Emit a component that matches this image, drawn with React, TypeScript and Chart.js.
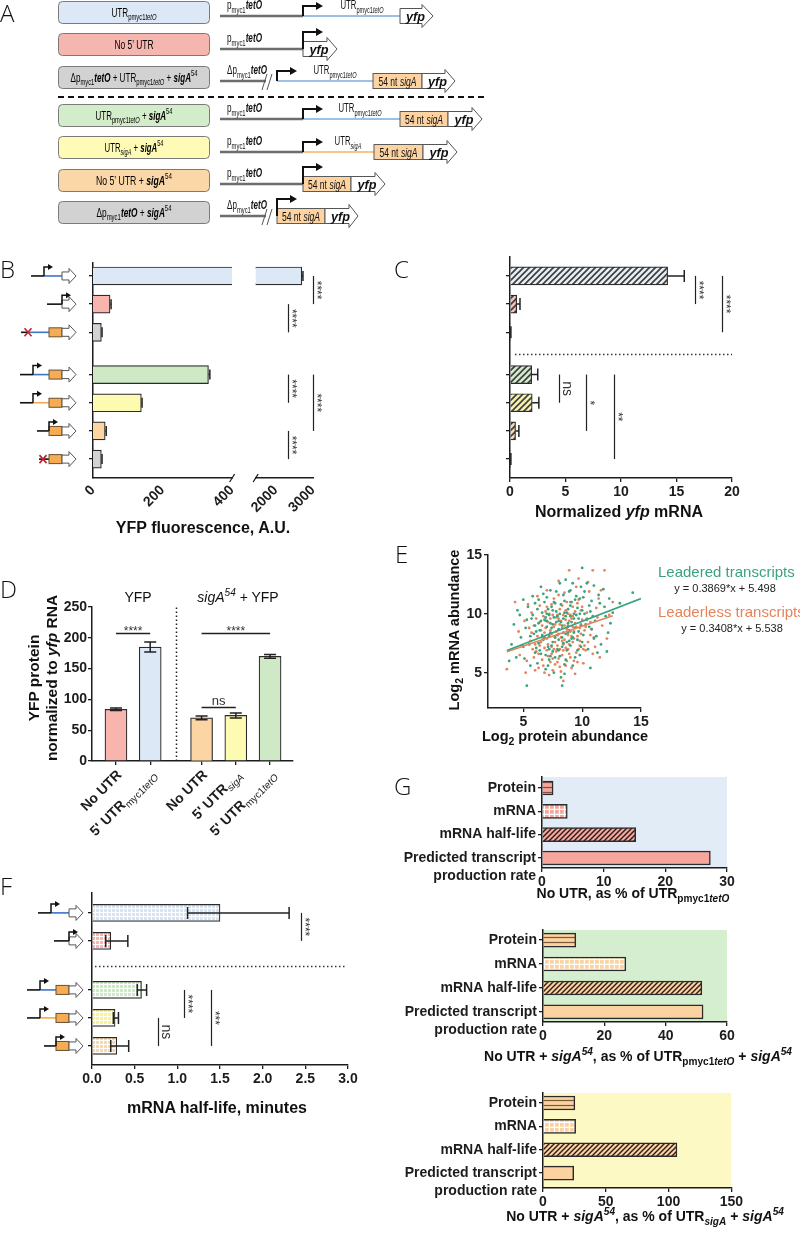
import React, { useEffect, useRef } from "react";
import { Chart, registerables } from "chart.js";

Chart.register(...registerables);

/* ---------------- fonts & colours ---------------- */
const FONT = "'Liberation Sans', Arial, Helvetica, sans-serif";
const LETTER = "'Open Sans', 'Liberation Sans', sans-serif";
const AX = "#1c1c1c";

const BLUE = "#dce8f5";
const PINK = "#f7b5ae";
const GRAY = "#d3d3d3";
const GREEN = "#cfe9c7";
const YELLOW = "#fdfab2";
const ORANGE = "#fcd5a5";
const SALMON = "#f6a69d";
const LORANGE = "#fbd2a0";
const E_GREEN = "#3aa37f";
const E_ORANGE = "#e3845c";

/* ---------------- data ---------------- */
const constructIcons = ["utr", "none", "dutr", "utrSig", "sigSig", "noneSig", "dSig"];
const constructPos = [0, 1, 2, 3.5, 4.5, 5.5, 6.5];

// B: YFP fluorescence (A.U.)
const bFluorescence = [2700, 49, 24, 332, 139, 35, 24];
const bError = [30, 3, 2, 4, 2, 3, 2];
const bTicksLow = [0, 200, 400];
const bTicksHigh = [2000, 3000];

// C: normalized yfp mRNA
const cMrna = [14.2, 0.6, 0.05, 1.95, 2.0, 0.5, 0.05];
const cError = [1.5, 0.3, 0.03, 0.55, 0.6, 0.3, 0.03];
const cTicks = [0, 5, 10, 15, 20];

// D: YFP protein normalized to yfp RNA
const dLabels = ["No UTR", "5' UTR|_myc1|_/tetO", "No UTR", "5' UTR|_/sigA", "5' UTR|_myc1|_/tetO"];
const dPos = [0, 1, 2.5, 3.5, 4.5];
const dRatio = [84, 185, 70, 74, 170];
const dError = [2, 8, 3, 4, 3];
const dTicks = [0, 50, 100, 150, 200, 250];

// E: log2 protein (x) vs log2 mRNA (y), flat x,y pairs
const eLeadered = [
  4.2, 9.1, 4.5, 10.3, 4.8, 8.0, 5.1, 6.2, 5.3, 3.9, 5.0, 11.2, 5.5, 7.4, 5.7, 9.6, 5.9, 8.3, 6.0, 10.9,
  6.1, 7.1, 6.2, 5.8, 6.3, 9.2, 6.4, 8.6, 6.5, 12.3, 6.5, 6.6, 6.6, 10.1, 6.7, 7.8, 6.8, 9.5, 6.9, 5.3,
  7.0, 8.9, 7.0, 11.4, 7.1, 7.2, 7.2, 9.9, 7.2, 6.1, 7.3, 8.4, 7.4, 10.6, 7.5, 7.6, 7.5, 9.1, 7.6, 5.0,
  7.7, 8.0, 7.8, 10.2, 7.8, 11.9, 7.9, 7.0, 8.0, 9.4, 8.0, 8.7, 8.1, 6.4, 8.2, 10.8, 8.3, 3.9, 8.3, 9.0,
  8.4, 7.5, 8.5, 11.1, 8.6, 8.3, 8.6, 9.8, 8.7, 6.9, 8.8, 10.4, 8.9, 8.6, 9.0, 12.0, 9.0, 7.3, 9.1, 9.3,
  9.2, 5.6, 9.3, 10.0, 9.4, 8.8, 9.5, 11.5, 9.6, 7.8, 9.7, 9.6, 9.8, 6.5, 10.0, 13.9, 10.0, 10.3, 10.1, 8.2,
  10.2, 11.9, 10.3, 9.1, 10.5, 7.0, 10.6, 10.7, 10.8, 8.7, 11.0, 12.4, 11.1, 9.4, 11.3, 6.7, 11.5, 10.9, 11.8, 12.1,
  12.0, 9.8, 12.2, 8.4, 12.3, 11.3, 12.6, 10.1, 13.2, 10.9, 14.3, 11.8, 3.8, 6.0, 4.0, 7.4, 4.4, 6.3, 4.7, 9.9,
  5.2, 8.8, 5.4, 10.6, 5.6, 5.6, 5.8, 11.5, 6.0, 9.0, 6.3, 7.5, 6.6, 8.2, 6.8, 11.0, 7.1, 10.4, 7.3, 12.0,
  7.4, 7.3, 7.6, 9.7, 7.9, 8.2, 8.1, 12.6, 8.2, 4.6, 8.4, 9.6, 8.5, 5.7, 8.7, 10.1, 8.9, 7.7, 9.1, 11.0,
  9.2, 8.0, 9.4, 6.3, 9.6, 10.5, 9.9, 9.0, 10.4, 12.6, 10.7, 5.4, 10.9, 9.8, 11.2, 8.1, 11.6, 7.4, 12.1, 6.8,
  12.4, 9.2, 6.2, 10.4, 6.9, 9.7, 7.7, 10.9, 8.0, 7.8, 8.8, 9.2, 9.3, 9.6, 9.8, 11.3, 7.2, 8.1, 6.4, 6.9,
  5.6, 8.1, 5.0, 7.2, 8.6, 12.9, 9.9, 12.3, 11.9, 10.6, 7.5, 6.8, 8.3, 8.0, 8.8, 8.4, 7.0, 9.4, 9.5, 9.9,
  10.2, 10.0, 6.7, 11.7, 7.8, 9.3, 6.1, 8.5, 9.0, 10.7, 8.1, 10.0, 8.4, 11.6, 10.6, 8.9, 11.4, 11.6, 7.3, 6.4,
  9.7, 8.5, 6.5, 9.4, 6.8, 8.0, 7.0, 10.0, 7.2, 7.0, 7.4, 8.8, 7.6, 11.0, 7.7, 6.3, 7.9, 9.8, 8.0, 6.9,
  8.2, 9.3, 8.3, 7.2, 8.5, 10.1, 8.6, 6.1, 8.8, 8.9, 8.9, 11.9, 9.1, 7.9, 9.3, 8.4, 9.4, 11.2, 9.6, 6.9,
  9.8, 10.0, 10.0, 7.6, 10.1, 11.4, 10.4, 9.5, 10.7, 10.2, 11.0, 7.9, 6.0, 6.7, 5.8, 9.9, 6.3, 11.2, 7.1, 5.6,
  8.5, 4.9, 9.2, 12.6, 10.8, 11.1, 6.9, 6.5, 7.5, 10.3, 8.7, 7.6, 9.0, 9.8, 7.3, 9.2, 8.4, 8.4, 9.9, 7.2, 5.3, 9.5,
];
const eLeaderless = [
  3.6, 5.3, 4.3, 11.0, 4.6, 8.5, 4.9, 7.3, 5.1, 9.4, 5.3, 6.0, 5.5, 8.8, 5.7, 10.1, 5.8, 7.0, 6.0, 5.2,
  6.1, 9.6, 6.2, 8.1, 6.3, 6.6, 6.4, 10.7, 6.5, 7.6, 6.6, 9.0, 6.7, 5.6, 6.8, 8.4, 6.9, 10.2, 7.0, 6.9,
  7.0, 7.9, 7.1, 9.3, 7.2, 4.8, 7.3, 8.6, 7.4, 7.2, 7.4, 10.8, 7.5, 6.2, 7.6, 8.9, 7.7, 7.6, 7.8, 9.7,
  7.9, 5.9, 8.0, 8.3, 8.0, 11.6, 8.1, 7.0, 8.2, 9.4, 8.3, 6.5, 8.3, 8.8, 8.4, 4.3, 8.5, 7.8, 8.6, 10.3,
  8.7, 6.0, 8.8, 9.0, 8.9, 13.7, 8.9, 7.4, 9.0, 8.5, 9.1, 5.4, 9.2, 10.6, 9.3, 7.9, 9.4, 9.2, 9.5, 6.7,
  9.6, 8.1, 9.7, 11.2, 9.8, 7.3, 10.0, 9.5, 10.1, 5.8, 10.2, 8.6, 10.4, 10.1, 10.5, 7.6, 10.7, 9.3, 10.9, 13.7,
  11.0, 8.0, 11.2, 10.5, 11.5, 6.3, 11.7, 9.0, 11.9, 13.7, 12.1, 7.9, 12.3, 9.9, 5.4, 10.8, 5.9, 9.0, 6.2, 11.5,
  6.6, 6.1, 6.9, 8.8, 7.2, 10.0, 7.5, 5.2, 7.7, 8.0, 7.9, 9.9, 8.1, 5.5, 8.3, 10.7, 8.6, 7.1, 8.8, 8.2,
  9.0, 6.3, 9.2, 9.8, 9.4, 4.9, 9.6, 10.9, 9.9, 8.3, 10.3, 6.9, 10.6, 11.9, 10.8, 8.7, 11.1, 7.2, 11.4, 11.3,
  6.0, 7.4, 6.4, 9.3, 6.8, 7.1, 7.1, 6.4, 7.3, 9.6, 7.6, 11.3, 7.8, 6.8, 8.2, 8.0, 8.4, 9.9, 8.7, 8.7,
  8.9, 6.6, 9.1, 9.6, 9.3, 8.5, 9.5, 12.3, 9.8, 7.7, 10.0, 10.6, 10.3, 8.9, 10.9, 6.6, 11.3, 9.7, 12.6, 11.0,
  4.7, 6.5, 5.2, 5.0, 5.6, 7.7, 6.3, 5.4, 7.0, 12.0, 8.0, 12.8, 8.5, 11.8, 9.0, 11.0, 9.7, 13.0, 10.5, 12.7,
  11.6, 12.0, 7.4, 8.3, 8.1, 9.1, 8.6, 9.5, 9.2, 7.6, 9.9, 9.1, 6.7, 9.8, 7.7, 5.7, 8.4, 6.9, 9.4, 10.2,
  6.5, 8.6, 7.9, 7.3, 8.8, 10.0, 6.6, 8.0, 6.9, 9.4, 7.1, 7.4, 7.3, 5.9, 7.5, 9.9, 7.6, 7.0, 7.8, 8.5,
  8.0, 6.2, 8.1, 10.4, 8.3, 7.7, 8.5, 9.0, 8.6, 5.6, 8.8, 7.0, 9.0, 9.9, 9.1, 8.1, 9.3, 6.0, 9.5, 8.9,
  9.7, 7.0, 9.9, 10.3, 10.2, 7.3, 10.4, 9.6, 10.7, 8.2, 6.1, 6.8, 5.7, 8.4, 6.4, 7.3, 7.0, 10.6, 7.7, 9.1,
  8.2, 5.1, 8.9, 9.4, 9.6, 5.9, 6.8, 5.0, 7.4, 6.6, 8.7, 11.0, 9.8, 8.8, 10.1, 7.0, 5.9, 6.3, 7.2, 8.2,
  8.0, 9.6, 8.4, 7.4, 9.2, 8.9,
];
const eLeaderedFit = [3.6, 6.89, 15, 11.3];
const eLeaderlessFit = [3.6, 6.77, 12.6, 9.83];
const eTicks = [5, 10, 15];

// F: mRNA half-life (minutes)
const fIcons = ["utr", "none", "utrSig", "sigSig", "noneSig"];
const fPos = [0, 1, 2.75, 3.75, 4.75];
const fHalfLife = [1.5, 0.22, 0.58, 0.27, 0.29];
const fLow = [1.12, 0.16, 0.53, 0.25, 0.22];
const fHigh = [2.31, 0.42, 0.64, 0.31, 0.43];
const fTicks = [0, 0.5, 1, 1.5, 2, 2.5, 3];

// G: percentages
const gCategories = [["Protein"], ["mRNA"], ["mRNA half-life"], ["Predicted transcript", "production rate"]];
const gPos = [0, 1, 2, 3];
const gNoUtr = [1.8, 4.1, 15.2, 27.3];
const gNoUtrSig = [10.7, 27, 51.8, 52.2];
const gNoUtrSigVsSigA = [25.4, 26, 106.7, 24.5];
const g1Ticks = [0, 10, 20, 30];
const g2Ticks = [0, 20, 40, 60];
const g3Ticks = [0, 50, 100, 150];

// significance annotations
const bSigs = [
  { x: 3000, from: 0, to: 1, text: "****" },
  { x: 2333, from: 1, to: 2, text: "****" },
  { x: 2333, from: 3.5, to: 4.5, text: "****" },
  { x: 3000, from: 3.5, to: 5.5, text: "****" },
  { x: 2333, from: 5.5, to: 6.5, text: "****" },
];
const cSigs = [
  { x: 16.7, from: 0, to: 1, text: "****" },
  { x: 19.1, from: 0, to: 2, text: "****" },
  { x: 4.4, from: 3.5, to: 4.5, text: "ns" },
  { x: 6.85, from: 3.5, to: 5.5, text: "*" },
  { x: 9.4, from: 3.5, to: 6.5, text: "**" },
];
const dSigs = [
  { from: 0, to: 1, y: 208, text: "****" },
  { from: 2.5, to: 4.5, y: 208, text: "****" },
  { from: 2.5, to: 3.5, y: 88, text: "ns" },
];
const fSigs = [
  { x: 2.45, from: 0, to: 1, text: "****" },
  { x: 1.08, from: 2.75, to: 3.75, text: "****" },
  { x: 1.4, from: 2.75, to: 4.75, text: "***" },
  { x: 0.77, from: 3.75, to: 4.75, text: "ns" },
];

/* ---------------- layout boxes ---------------- */
type Box = { x: number; y: number; w: number; h: number };
type Area = { l: number; t: number; r: number; b: number };

const BL_BOX = { x: 0, y: 255, w: 248, h: 265 }, BL_AREA = { l: 93, t: 263, r: 240, b: 478 };
const BR_BOX = { x: 248, y: 255, w: 100, h: 265 }, BR_AREA = { l: 253, t: 263, r: 313, b: 478 };
const C_BOX = { x: 395, y: 252, w: 350, h: 245 }, C_AREA = { l: 510, t: 257, r: 732, b: 478 };
const D_BOX = { x: 0, y: 590, w: 300, h: 260 }, D_AREA = { l: 92, t: 607, r: 293, b: 761 };
const E_BOX = { x: 400, y: 540, w: 260, h: 200 }, E_AREA = { l: 488, t: 555, r: 641, b: 708 };
const F_BOX = { x: 0, y: 885, w: 365, h: 215 }, F_AREA = { l: 92, t: 893, r: 348, b: 1065 };
const G1_BOX = { x: 390, y: 770, w: 350, h: 120 }, G1_AREA = { l: 542, t: 777, r: 727, b: 868 };
const G2_BOX = { x: 390, y: 925, w: 350, h: 115 }, G2_AREA = { l: 543, t: 930, r: 727, b: 1022 };
const G3_BOX = { x: 390, y: 1088, w: 355, h: 125 }, G3_AREA = { l: 543, t: 1093, r: 732, b: 1188 };

/* ---------------- helpers ---------------- */
type Seg = { t: string; sub?: boolean; sup?: boolean; i?: boolean; b?: boolean };
function parseSegs(s: string): Seg[] {
  return s.split("|").map((tok) => {
    const seg: Seg = { t: "" };
    let k = 0;
    while (k < tok.length && "_^/*".includes(tok[k])) {
      const c = tok[k];
      if (c === "_") seg.sub = true;
      else if (c === "^") seg.sup = true;
      else if (c === "/") seg.i = true;
      else seg.b = true;
      k++;
    }
    seg.t = tok.slice(k);
    return seg;
  });
}

const tickFont = { family: FONT, size: 14, weight: "bold" as const };
const tickMarks = { display: true, drawOnChartArea: false, drawTicks: true, tickLength: 4, color: AX, lineWidth: 1.3, offset: false };
const noGrid = { display: false, drawOnChartArea: false, drawTicks: false };
const axisBorder = { display: true, color: AX, width: 1.5 };

function fixedTicks(vals: number[]) {
  return (s: any) => {
    s.ticks = vals.map((v) => ({ value: v }));
  };
}
function pairs(a: number[]) {
  const out: { x: number; y: number }[] = [];
  for (let i = 0; i + 1 < a.length; i += 2) out.push({ x: a[i], y: a[i + 1] });
  return out;
}
function baseOptions(box: Box, area: Area, hideY = false) {
  return {
    responsive: false,
    maintainAspectRatio: false,
    animation: false,
    devicePixelRatio: 1,
    events: [],
    layout: { padding: { left: hideY ? area.l - box.x : 0, top: area.t - box.y, right: box.x + box.w - area.r, bottom: 0 } },
    plugins: { legend: { display: false }, tooltip: { enabled: false }, title: { display: false } },
  };
}
function makePattern(kind: string, bg: string, fg: string, size: number, lw: number) {
  const c = document.createElement("canvas");
  c.width = size;
  c.height = size;
  const x = c.getContext("2d")!;
  x.fillStyle = bg;
  x.fillRect(0, 0, size, size);
  x.strokeStyle = fg;
  x.lineWidth = lw;
  x.beginPath();
  if (kind === "diag") {
    x.moveTo(0, size);
    x.lineTo(size, 0);
    x.moveTo(-size / 4, size / 4);
    x.lineTo(size / 4, -size / 4);
    x.moveTo((size * 3) / 4, (size * 5) / 4);
    x.lineTo((size * 5) / 4, (size * 3) / 4);
  } else if (kind === "hstripe") {
    x.moveTo(0, size / 2);
    x.lineTo(size, size / 2);
  } else if (kind === "grid") {
    x.moveTo(size - lw / 2, 0);
    x.lineTo(size - lw / 2, size);
    x.moveTo(0, size - lw / 2);
    x.lineTo(size, size - lw / 2);
  }
  x.stroke();
  return x.createPattern(c, "repeat");
}

/* ---------- canvas drawing helpers ---------- */
function drawIcon(ctx: CanvasRenderingContext2D, kind: string, R: number, cy: number) {
  ctx.save();
  const hline = (x0: number, x1: number, color: string) => {
    ctx.strokeStyle = color;
    ctx.lineWidth = 1.6;
    ctx.beginPath();
    ctx.moveTo(x0, cy);
    ctx.lineTo(x1, cy);
    ctx.stroke();
  };
  const prom = (x: number) => {
    ctx.strokeStyle = "#111";
    ctx.fillStyle = "#111";
    ctx.lineWidth = 1.5;
    ctx.beginPath();
    ctx.moveTo(x, cy);
    ctx.lineTo(x, cy - 9);
    ctx.lineTo(x + 5, cy - 9);
    ctx.stroke();
    ctx.beginPath();
    ctx.moveTo(x + 4, cy - 12);
    ctx.lineTo(x + 9, cy - 9);
    ctx.lineTo(x + 4, cy - 6);
    ctx.closePath();
    ctx.fill();
  };
  const cross = (x: number) => {
    ctx.strokeStyle = "#c0242b";
    ctx.lineWidth = 1.6;
    ctx.beginPath();
    ctx.moveTo(x - 3.5, cy - 4);
    ctx.lineTo(x + 3.5, cy + 4);
    ctx.moveTo(x + 3.5, cy - 4);
    ctx.lineTo(x - 3.5, cy + 4);
    ctx.stroke();
  };
  const box = () => {
    ctx.fillStyle = "#f5ac52";
    ctx.fillRect(R - 27, cy - 4.5, 13, 9);
    ctx.strokeStyle = "#6b5030";
    ctx.lineWidth = 1;
    ctx.strokeRect(R - 27, cy - 4.5, 13, 9);
  };
  const yfp = () => {
    ctx.beginPath();
    ctx.moveTo(R - 14, cy - 4);
    ctx.lineTo(R - 7, cy - 4);
    ctx.lineTo(R - 7, cy - 7.5);
    ctx.lineTo(R, cy);
    ctx.lineTo(R - 7, cy + 7.5);
    ctx.lineTo(R - 7, cy + 4);
    ctx.lineTo(R - 14, cy + 4);
    ctx.closePath();
    ctx.fillStyle = "#fff";
    ctx.fill();
    ctx.strokeStyle = "#555";
    ctx.lineWidth = 1;
    ctx.stroke();
  };
  const IB = "#3d74c6", IO = "#f3a952";
  switch (kind) {
    case "utr": hline(R - 45, R - 32, "#111"); hline(R - 32, R - 14, IB); yfp(); prom(R - 32); break;
    case "none": hline(R - 29, R - 14, "#111"); yfp(); prom(R - 14); break;
    case "dutr": hline(R - 55, R - 48, "#111"); hline(R - 48, R - 27, IB); box(); yfp(); cross(R - 48); break;
    case "utrSig": hline(R - 56, R - 43, "#111"); hline(R - 43, R - 27, IB); box(); yfp(); prom(R - 43); break;
    case "sigSig": hline(R - 56, R - 43, "#111"); hline(R - 43, R - 27, IO); box(); yfp(); prom(R - 43); break;
    case "noneSig": hline(R - 39, R - 27, "#111"); box(); yfp(); prom(R - 27); break;
    case "dSig": hline(R - 37, R - 27, "#111"); box(); yfp(); cross(R - 33); break;
  }
  ctx.restore();
}
function drawIcons(chart: any, kinds: string[], pos: number[], R: number) {
  const ys = chart.scales.y;
  kinds.forEach((k, i) => drawIcon(chart.ctx, k, R, ys.getPixelForValue(pos[i])));
}
function errH(chart: any, vals: number[], errs: number[], pos: number[], cap: number) {
  const { ctx } = chart;
  const xs = chart.scales.x, ys = chart.scales.y;
  ctx.save();
  ctx.strokeStyle = "#222";
  ctx.lineWidth = 1.5;
  vals.forEach((v, i) => {
    const hi = v + errs[i];
    if (hi < xs.min || hi > xs.max) return;
    const x0 = xs.getPixelForValue(Math.max(v, xs.min));
    const x1 = xs.getPixelForValue(hi);
    const y = ys.getPixelForValue(pos[i]);
    ctx.beginPath();
    ctx.moveTo(x0, y);
    ctx.lineTo(x1, y);
    ctx.moveTo(x1, y - cap);
    ctx.lineTo(x1, y + cap);
    ctx.stroke();
  });
  ctx.restore();
}
function errBoth(chart: any, low: number[], high: number[], pos: number[], cap: number) {
  const { ctx } = chart;
  const xs = chart.scales.x, ys = chart.scales.y;
  ctx.save();
  ctx.strokeStyle = "#222";
  ctx.lineWidth = 1.5;
  low.forEach((lo, i) => {
    const x0 = xs.getPixelForValue(lo), x1 = xs.getPixelForValue(high[i]);
    const y = ys.getPixelForValue(pos[i]);
    ctx.beginPath();
    ctx.moveTo(x0, y);
    ctx.lineTo(x1, y);
    ctx.moveTo(x0, y - cap);
    ctx.lineTo(x0, y + cap);
    ctx.moveTo(x1, y - cap);
    ctx.lineTo(x1, y + cap);
    ctx.stroke();
  });
  ctx.restore();
}
function drawVSigs(chart: any, sigs: { x: number; from: number; to: number; text: string }[]) {
  const { ctx } = chart;
  const xs = chart.scales.x, ys = chart.scales.y;
  ctx.save();
  sigs.forEach((s) => {
    const px = Math.round(xs.getPixelForValue(s.x)) + 0.5;
    const y0 = ys.getPixelForValue(s.from), y1 = ys.getPixelForValue(s.to);
    ctx.strokeStyle = "#222";
    ctx.lineWidth = 1.2;
    ctx.beginPath();
    ctx.moveTo(px, y0);
    ctx.lineTo(px, y1);
    ctx.stroke();
    const star = s.text.includes("*");
    ctx.save();
    ctx.translate(px + (star ? -1 : 3), (y0 + y1) / 2);
    ctx.rotate(Math.PI / 2);
    ctx.fillStyle = "#333";
    ctx.font = star ? `12px ${FONT}` : `14px ${FONT}`;
    ctx.textAlign = "center";
    ctx.textBaseline = "alphabetic";
    ctx.fillText(s.text, 0, 0);
    ctx.restore();
  });
  ctx.restore();
}
function dottedH(chart: any, pos: number, from: number, to: number) {
  const { ctx } = chart;
  const xs = chart.scales.x, ys = chart.scales.y;
  const y = Math.round(ys.getPixelForValue(pos)) + 0.5;
  ctx.save();
  ctx.strokeStyle = "#333";
  ctx.lineWidth = 1.5;
  ctx.setLineDash([1.5, 2.5]);
  ctx.beginPath();
  ctx.moveTo(xs.getPixelForValue(from), y);
  ctx.lineTo(xs.getPixelForValue(to), y);
  ctx.stroke();
  ctx.restore();
}
function slash(ctx: CanvasRenderingContext2D, x: number, y: number) {
  ctx.save();
  ctx.strokeStyle = AX;
  ctx.lineWidth = 1.3;
  ctx.beginPath();
  ctx.moveTo(x - 2.5, y + 4);
  ctx.lineTo(x + 2.5, y - 4);
  ctx.stroke();
  ctx.restore();
}
function drawRichCanvas(ctx: CanvasRenderingContext2D, text: string, size: number, subSize: number, x: number, y: number, align: string) {
  const segs = parseSegs(text);
  const fontOf = (s: Seg) => `${s.i ? "italic " : ""}${s.sub || s.sup ? "normal" : "bold"} ${s.sub || s.sup ? subSize : size}px ${FONT}`;
  let w = 0;
  segs.forEach((s) => {
    ctx.font = fontOf(s);
    w += ctx.measureText(s.t).width;
  });
  let cx = align === "right" ? x - w : x;
  ctx.textAlign = "left";
  ctx.textBaseline = "alphabetic";
  segs.forEach((s) => {
    ctx.font = fontOf(s);
    ctx.fillText(s.t, cx, y + (s.sub ? size * 0.25 : 0));
    cx += ctx.measureText(s.t).width;
  });
}

/* ---------------- chart configs ---------------- */
function hbarConfig(o: any) {
  const base = baseOptions(o.box, o.area, o.hideY);
  return {
    type: "bar",
    data: {
      datasets: [
        {
          data: o.values.map((v: number, i: number) => ({ x: v, y: o.pos[i] })),
          backgroundColor: o.fills,
          borderColor: "#2b2b2b",
          borderWidth: o.borderWidth ?? 1.2,
          barThickness: o.thickness,
          clip: 0,
        },
      ],
    },
    options: {
      ...base,
      indexAxis: "y",
      scales: {
        x: {
          type: "linear",
          min: o.xMin,
          max: o.xMax,
          afterBuildTicks: fixedTicks(o.xTicks),
          afterFit: (s: any) => {
            s.height = o.box.y + o.box.h - o.area.b;
          },
          grid: o.noXTicks ? noGrid : tickMarks,
          border: axisBorder,
          ticks: {
            font: tickFont,
            color: AX,
            autoSkip: false,
            padding: o.rotate ? 4 : 2,
            minRotation: o.rotate ? 45 : 0,
            maxRotation: o.rotate ? 45 : 0,
            callback: o.fmt ?? ((v: number) => String(v)),
          },
        },
        y: {
          type: "linear",
          display: !o.hideY,
          reverse: true,
          min: o.yMin,
          max: o.yMax,
          offset: false,
          afterBuildTicks: fixedTicks(o.pos),
          afterFit: o.hideY
            ? undefined
            : (s: any) => {
                s.width = o.area.l - o.box.x;
              },
          grid: tickMarks,
          border: axisBorder,
          ticks: { display: false },
        },
      },
    },
    plugins: [o.plugin],
  };
}

function bLeftConfig() {
  return hbarConfig({
    box: BL_BOX, area: BL_AREA, values: bFluorescence, pos: constructPos,
    fills: [BLUE, PINK, GRAY, GREEN, YELLOW, ORANGE, GRAY],
    xMin: 0, xMax: 400, xTicks: bTicksLow, yMin: -0.46, yMax: 7.17, rotate: true, noXTicks: true, thickness: 18,
    plugin: {
      id: "bl",
      afterDatasetsDraw(chart: any) {
        errH(chart, bFluorescence, bError, constructPos, 5);
        drawIcons(chart, constructIcons, constructPos, 76);
        slash(chart.ctx, chart.chartArea.right, chart.chartArea.bottom);
      },
    },
  });
}
function bRightConfig() {
  return hbarConfig({
    box: BR_BOX, area: BR_AREA, values: bFluorescence, pos: constructPos, hideY: true,
    fills: [BLUE, PINK, GRAY, GREEN, YELLOW, ORANGE, GRAY],
    xMin: 1460, xMax: 3000, xTicks: bTicksHigh, yMin: -0.46, yMax: 7.17, rotate: true, noXTicks: true, thickness: 18,
    plugin: {
      id: "br",
      afterDatasetsDraw(chart: any) {
        errH(chart, bFluorescence, bError, constructPos, 5);
        drawVSigs(chart, bSigs);
        slash(chart.ctx, chart.chartArea.left, chart.chartArea.bottom);
      },
    },
  });
}
function cConfig() {
  const bgs = ["#e6eef3", "#f2c1bb", "#d0d0d0", "#d5e9cf", "#f5f1b3", "#f3dbb8", "#d0d0d0"];
  return hbarConfig({
    box: C_BOX, area: C_AREA, values: cMrna, pos: constructPos,
    fills: bgs.map((c) => makePattern("diag", c, "#3b3b3b", 6, 1.6)),
    xMin: 0, xMax: 20, xTicks: cTicks, yMin: -0.67, yMax: 7.17, thickness: 18,
    plugin: {
      id: "c",
      afterDatasetsDraw(chart: any) {
        errH(chart, cMrna, cError, constructPos, 6);
        drawIcons(chart, constructIcons, constructPos, 494);
        dottedH(chart, 2.77, 0.45, 20);
        drawVSigs(chart, cSigs);
      },
    },
  });
}
function fConfig() {
  const bgs = ["#d6e4f3", "#f5b8b1", "#cdeac6", "#f8f39a", "#f8d8ae"];
  return hbarConfig({
    box: F_BOX, area: F_AREA, values: fHalfLife, pos: fPos,
    fills: bgs.map((c) => makePattern("grid", c, "#ffffff", 4, 1)),
    xMin: 0, xMax: 3, xTicks: fTicks, yMin: -0.71, yMax: 5.43, thickness: 17,
    fmt: (v: number) => v.toFixed(1),
    plugin: {
      id: "f",
      afterDatasetsDraw(chart: any) {
        errBoth(chart, fLow, fHigh, fPos, 6);
        drawIcons(chart, fIcons, fPos, 83);
        dottedH(chart, 1.89, 0.035, 2.97);
        drawVSigs(chart, fSigs);
      },
    },
  });
}
function gConfig(box: Box, area: Area, values: number[], xMax: number, ticks: number[], yMin: number, yMax: number, bg: string, base: string, stripe: string) {
  return hbarConfig({
    box, area, values, pos: gPos,
    fills: [
      makePattern("hstripe", base, stripe, 5, 1.2),
      makePattern("grid", base, "#ffffff", 5, 1.2),
      makePattern("diag", base, "#2a1a18", 5, 1.4),
      base,
    ],
    borderWidth: 1.5,
    xMin: 0, xMax, xTicks: ticks, yMin, yMax, thickness: 14,
    plugin: {
      id: "g",
      beforeDraw(chart: any) {
        const a = chart.chartArea;
        chart.ctx.save();
        chart.ctx.fillStyle = bg;
        chart.ctx.fillRect(a.left, a.top, a.right - a.left, a.bottom - a.top);
        chart.ctx.restore();
      },
      afterDraw(chart: any) {
        const ctx = chart.ctx;
        const ys = chart.scales.y;
        const left = chart.chartArea.left;
        ctx.save();
        ctx.font = `bold 14px ${FONT}`;
        ctx.fillStyle = AX;
        ctx.textAlign = "right";
        ctx.textBaseline = "middle";
        gCategories.forEach((lines, i) => {
          const y = ys.getPixelForValue(gPos[i]);
          lines.forEach((ln, j) => ctx.fillText(ln, left - 6, y + j * 18));
        });
        ctx.restore();
      },
    },
  });
}
function dConfig() {
  return {
    type: "bar",
    data: {
      datasets: [
        {
          data: dRatio.map((v, i) => ({ x: dPos[i], y: v })),
          backgroundColor: [PINK, BLUE, ORANGE, YELLOW, GREEN],
          borderColor: "#2b2b2b",
          borderWidth: 1.2,
          barThickness: 22,
        },
      ],
    },
    options: {
      ...baseOptions(D_BOX, D_AREA),
      scales: {
        x: {
          type: "linear", min: -0.7, max: 5.17, offset: false,
          afterBuildTicks: fixedTicks(dPos),
          afterFit: (s: any) => { s.height = D_BOX.y + D_BOX.h - D_AREA.b; },
          grid: tickMarks, border: axisBorder, ticks: { display: false },
        },
        y: {
          type: "linear", min: 0, max: 250,
          afterBuildTicks: fixedTicks(dTicks),
          afterFit: (s: any) => { s.width = D_AREA.l - D_BOX.x; },
          grid: tickMarks, border: axisBorder,
          ticks: { font: tickFont, color: AX, padding: 1, callback: (v: number) => String(v) },
        },
      },
    },
    plugins: [
      {
        id: "d",
        afterDatasetsDraw(chart: any) {
          const { ctx } = chart;
          const xs = chart.scales.x, ys = chart.scales.y;
          ctx.save();
          ctx.strokeStyle = "#222";
          ctx.lineWidth = 1.5;
          dRatio.forEach((v, i) => {
            const x = xs.getPixelForValue(dPos[i]);
            const y0 = ys.getPixelForValue(v - dError[i]), y1 = ys.getPixelForValue(v + dError[i]);
            ctx.beginPath();
            ctx.moveTo(x, y0); ctx.lineTo(x, y1);
            ctx.moveTo(x - 6, y0); ctx.lineTo(x + 6, y0);
            ctx.moveTo(x - 6, y1); ctx.lineTo(x + 6, y1);
            ctx.stroke();
          });
          const dx = Math.round(xs.getPixelForValue(1.75)) + 0.5;
          ctx.setLineDash([1.5, 2.5]);
          ctx.beginPath();
          ctx.moveTo(dx, ys.getPixelForValue(0));
          ctx.lineTo(dx, chart.chartArea.top - 2);
          ctx.stroke();
          ctx.setLineDash([]);
          dSigs.forEach((s) => {
            const x0 = xs.getPixelForValue(s.from), x1 = xs.getPixelForValue(s.to);
            const y = Math.round(ys.getPixelForValue(s.y)) + 0.5;
            ctx.lineWidth = 1.3;
            ctx.beginPath(); ctx.moveTo(x0, y); ctx.lineTo(x1, y); ctx.stroke();
            const star = s.text.includes("*");
            ctx.fillStyle = "#333";
            ctx.font = star ? `12px ${FONT}` : `13px ${FONT}`;
            ctx.textAlign = "center";
            ctx.textBaseline = "alphabetic";
            ctx.fillText(s.text, (x0 + x1) / 2, star ? y + 1 : y - 3);
          });
          ctx.restore();
        },
        afterDraw(chart: any) {
          const { ctx } = chart;
          const xs = chart.scales.x;
          const bottom = chart.chartArea.bottom;
          dLabels.forEach((lab, i) => {
            const x = xs.getPixelForValue(dPos[i]);
            ctx.save();
            ctx.translate(x + 3, bottom + 11);
            ctx.rotate(-Math.PI / 4);
            ctx.fillStyle = AX;
            drawRichCanvas(ctx, lab, 14, 10, 0, 5, "right");
            ctx.restore();
          });
        },
      },
    ],
  };
}
function eConfig() {
  const axis = (s: string) => ({
    type: "linear", min: 2, max: 15,
    afterBuildTicks: fixedTicks(eTicks),
    afterFit: s === "x"
      ? (sc: any) => { sc.height = E_BOX.y + E_BOX.h - E_AREA.b; }
      : (sc: any) => { sc.width = E_AREA.l - E_BOX.x; },
    grid: tickMarks, border: axisBorder,
    ticks: { font: tickFont, color: AX, padding: 2, callback: (v: number) => String(v) },
  });
  return {
    type: "scatter",
    data: {
      datasets: [
        { data: pairs(eLeaderedFit), showLine: true, borderColor: E_GREEN, borderWidth: 1.6, pointRadius: 0 },
        { data: pairs(eLeaderlessFit), showLine: true, borderColor: E_ORANGE, borderWidth: 1.6, pointRadius: 0 },
        { data: pairs(eLeadered), backgroundColor: E_GREEN, borderWidth: 0, pointRadius: 1.4 },
        { data: pairs(eLeaderless), backgroundColor: E_ORANGE, borderWidth: 0, pointRadius: 1.4 },
      ],
    },
    options: { ...baseOptions(E_BOX, E_AREA), scales: { x: axis("x"), y: axis("y") } },
  };
}

/* ---------------- React pieces ---------------- */
function ChartBox({ box, make }: { box: Box; make: () => any }) {
  const ref = useRef<HTMLCanvasElement | null>(null);
  useEffect(() => {
    if (!ref.current) return;
    const chart = new Chart(ref.current, make());
    return () => chart.destroy();
  }, []);
  return (
    <canvas
      ref={ref}
      width={box.w}
      height={box.h}
      style={{ position: "absolute", left: box.x, top: box.y, width: box.w, height: box.h }}
    />
  );
}

function Rich(p: { x: number; y: number; text: string; size: number; anchor?: string; weight?: any; fill?: string; family?: string; rotate?: number; subScale?: number; len?: number }) {
  const { x, y, text, size, anchor = "start", weight = "normal", fill = "#111", family = FONT, rotate = 0, subScale = 0.72, len } = p;
  const segs = parseSegs(text);
  let cur = 0;
  return (
    <text
      x={x}
      y={y}
      fontSize={size}
      fontFamily={family}
      fontWeight={weight}
      textAnchor={anchor as any}
      fill={fill}
      textLength={len}
      lengthAdjust={len ? "spacingAndGlyphs" : undefined}
      style={{ whiteSpace: "pre" }}
      transform={rotate ? `rotate(${rotate} ${x} ${y})` : undefined}
    >
      {segs.map((s, k) => {
        const target = s.sub ? size * 0.3 : s.sup ? -size * 0.42 : 0;
        const dy = target - cur;
        cur = target;
        return (
          <tspan
            key={k}
            dy={dy !== 0 ? dy : undefined}
            fontSize={s.sub || s.sup ? size * subScale : undefined}
            fontStyle={s.i ? "italic" : undefined}
            fontWeight={s.b ? "bold" : undefined}
          >
            {s.t}
          </tspan>
        );
      })}
    </text>
  );
}

/* ---------- panel A (construct diagrams) ---------- */
const aBoxTop = [1, 33, 66, 104, 136, 169, 201];
const aBoxes = [
  { text: "UTR|_pmyc1|_/tetO", fill: "#dce8f5", len: 45 },
  { text: "No 5’ UTR", fill: "#f6b6b0", len: 39 },
  { text: "Δp|_myc1|/*tetO| + UTR|_pmyc1|_/tetO| + |/*sigA|^54", fill: "#d2d2d2", len: 127 },
  { text: "UTR|_pmyc1|_/tetO| + |/*sigA|^54", fill: "#d3ecc9", len: 77 },
  { text: "UTR|_/sigA| + |/*sigA|^54", fill: "#fdfbb6", len: 59 },
  { text: "No 5’ UTR + |/*sigA|^54", fill: "#fbd6a6", len: 76 },
  { text: "Δp|_myc1|/*tetO| + |/*sigA|^54", fill: "#d2d2d2", len: 75 },
];
const UTR_LABEL = "UTR|_pmyc1|_/tetO";
const aRows: any[] = [
  { y: 16, prom: 303, utr: { to: 400, color: "#9dc1e4", label: UTR_LABEL, lx: 362, len: 43 }, yfp: [400, 422, 433] },
  { y: 49, prom: 303, tall: true, yfp: [303, 327, 337] },
  { y: 81, prom: 277, delta: true, utr: { to: 373, color: "#9dc1e4", label: UTR_LABEL, lx: 335, len: 43 }, box: [373, 422], yfp: [422, 445, 455] },
  { y: 119, prom: 303, utr: { to: 400, color: "#9dc1e4", label: UTR_LABEL, lx: 360, len: 43 }, box: [400, 448], yfp: [448, 472, 482] },
  { y: 152, prom: 303, utr: { to: 374, color: "#f7c48d", label: "UTR|_/sigA", lx: 348, len: 27 }, box: [374, 423], yfp: [423, 447, 457] },
  { y: 184, prom: 303, tall: true, box: [303, 351], yfp: [351, 375, 385] },
  { y: 216, prom: 277, delta: true, tall: true, box: [277, 325], yfp: [325, 349, 358] },
];

function SchemRow({ r }: { r: any }) {
  const y = r.y;
  const promH = r.tall ? 17 : 10;
  const grayEnd = r.delta ? 266 : r.prom;
  const [a0, a1, a2] = r.yfp;
  return (
    <g>
      <line x1={220} y1={y} x2={grayEnd} y2={y} stroke="#6d6d6d" strokeWidth={2.6} />
      {r.delta && <path d={`M262 ${y + 9} L267 ${y - 7} M267 ${y + 9} L272 ${y - 7}`} stroke="#555" strokeWidth={1} fill="none" />}
      {r.utr && <line x1={r.prom} y1={y} x2={r.utr.to} y2={y} stroke={r.utr.color} strokeWidth={2.2} />}
      {r.utr && <Rich x={r.utr.lx} y={y - 7} text={r.utr.label} size={12.5} anchor="middle" len={r.utr.len} />}
      <Rich x={227} y={y - 7} text={r.delta ? "Δp|_myc1|/*tetO" : "p|_myc1|/*tetO"} size={12.5} len={r.delta ? 40 : 35} />
      {r.box && (
        <g>
          <rect x={r.box[0]} y={y - 7.5} width={r.box[1] - r.box[0]} height={15} fill="#fcd3a1" stroke="#5b5b5b" strokeWidth={1} />
          <Rich x={(r.box[0] + r.box[1]) / 2} y={y + 4.5} text="54 nt |/sigA" size={12.5} anchor="middle" len={38} />
        </g>
      )}
      <polygon
        points={`${a0},${y - 7.5} ${a1},${y - 7.5} ${a1},${y - 11.5} ${a2},${y} ${a1},${y + 11.5} ${a1},${y + 7.5} ${a0},${y + 7.5}`}
        fill="#fff"
        stroke="#555"
        strokeWidth={1}
      />
      <Rich x={(a0 + a2) / 2 - 1} y={y + 4.5} text="/*yfp" size={13} anchor="middle" len={19} />
      <path d={`M${r.prom} ${y} V${y - promH} H${r.prom + 14}`} stroke="#111" strokeWidth={2} fill="none" />
      <polygon points={`${r.prom + 13},${y - promH - 4} ${r.prom + 20},${y - promH} ${r.prom + 13},${y - promH + 4}`} fill="#111" />
    </g>
  );
}

function PanelA() {
  return (
    <g>
      {aBoxes.map((b, k) => (
        <g key={"b" + k}>
          <rect x={58.5} y={aBoxTop[k] + 0.5} width={151} height={22} rx={4} fill={b.fill} stroke="#7a7a7a" strokeWidth={1} />
          <Rich x={134} y={aBoxTop[k] + 15.5} text={b.text} size={13} anchor="middle" len={b.len} fill="#000" />
        </g>
      ))}
      <line x1={58} y1={97} x2={484} y2={97} stroke="#111" strokeWidth={2} strokeDasharray="6 4" />
      {aRows.map((r, k) => (
        <SchemRow key={"r" + k} r={r} />
      ))}
    </g>
  );
}

function Texts() {
  const L = (t: string, x: number, y: number) => (
    <text x={x} y={y} fontFamily={LETTER} fontSize={24} fontWeight={300} fill="#111">
      {t}
    </text>
  );
  return (
    <g>
      {L("A", 0, 22)}
      {L("B", 0, 278)}
      {L("C", 394, 278)}
      {L("D", 0, 598)}
      {L("E", 395, 563)}
      {L("F", 0, 895)}
      {L("G", 394, 795)}
      <Rich x={203} y={533} text="YFP fluorescence, A.U." size={16} weight="bold" anchor="middle" />
      <Rich x={619} y={517} text="Normalized |/yfp| mRNA" size={16} weight="bold" anchor="middle" />
      <Rich x={138} y={602} text="YFP" size={14} anchor="middle" />
      <Rich x={238} y={602} text="/sigA|^/54| + YFP" size={14} anchor="middle" />
      <Rich x={39} y={678} text="YFP protein" size={15.5} weight="bold" anchor="middle" rotate={-90} />
      <Rich x={57} y={678} text="normalized to |/yfp| RNA" size={15.5} weight="bold" anchor="middle" rotate={-90} />
      <Rich x={459} y={630} text="Log|_2| mRNA abundance" size={14.5} weight="bold" anchor="middle" rotate={-90} />
      <Rich x={565} y={741} text="Log|_2| protein abundance" size={14.5} weight="bold" anchor="middle" />
      <Rich x={658} y={577} text="Leadered transcripts" size={15} fill={E_GREEN} />
      <Rich x={725} y={592} text="y = 0.3869*x + 5.498" size={11} anchor="middle" fill="#222" />
      <Rich x={658} y={617} text="Leaderless transcripts" size={15} fill={E_ORANGE} />
      <Rich x={732} y={632} text="y = 0.3408*x + 5.538" size={11} anchor="middle" fill="#222" />
      <Rich x={217} y={1113} text="mRNA half-life, minutes" size={16} weight="bold" anchor="middle" />
      <Rich x={633} y={898} text="No UTR, as % of UTR|_pmyc1|_/tetO" size={14} weight="bold" anchor="middle" />
      <Rich x={638} y={1061} text="No UTR + |/sigA|^/54|, as % of UTR|_pmyc1|_/tetO| + |/sigA|^/54" size={14} weight="bold" anchor="middle" />
      <Rich x={645} y={1221} text="No UTR + |/sigA|^/54|, as % of UTR|_/sigA| + |/sigA|^/54" size={14} weight="bold" anchor="middle" />
    </g>
  );
}

export default function App() {
  return (
    <div style={{ position: "absolute", left: 0, top: 0, width: 800, height: 1236, background: "#fff", overflow: "hidden" }}>
      <ChartBox box={BL_BOX} make={bLeftConfig} />
      <ChartBox box={BR_BOX} make={bRightConfig} />
      <ChartBox box={C_BOX} make={cConfig} />
      <ChartBox box={D_BOX} make={dConfig} />
      <ChartBox box={E_BOX} make={eConfig} />
      <ChartBox box={F_BOX} make={fConfig} />
      <ChartBox
        box={G1_BOX}
        make={() => gConfig(G1_BOX, G1_AREA, gNoUtr, 30, g1Ticks, -0.47, 3.43, "#e2ecf7", SALMON, "#8c4a44")}
      />
      <ChartBox
        box={G2_BOX}
        make={() => gConfig(G2_BOX, G2_AREA, gNoUtrSig, 60, g2Ticks, -0.42, 3.42, "#d5eecf", LORANGE, "#7a5a3a")}
      />
      <ChartBox
        box={G3_BOX}
        make={() => gConfig(G3_BOX, G3_AREA, gNoUtrSigVsSigA, 150, g3Ticks, -0.43, 3.64, "#fdf9c4", LORANGE, "#7a5a3a")}
      />
      <svg width={800} height={1236} style={{ position: "absolute", left: 0, top: 0, pointerEvents: "none" }}>
        <PanelA />
        <Texts />
      </svg>
    </div>
  );
}
